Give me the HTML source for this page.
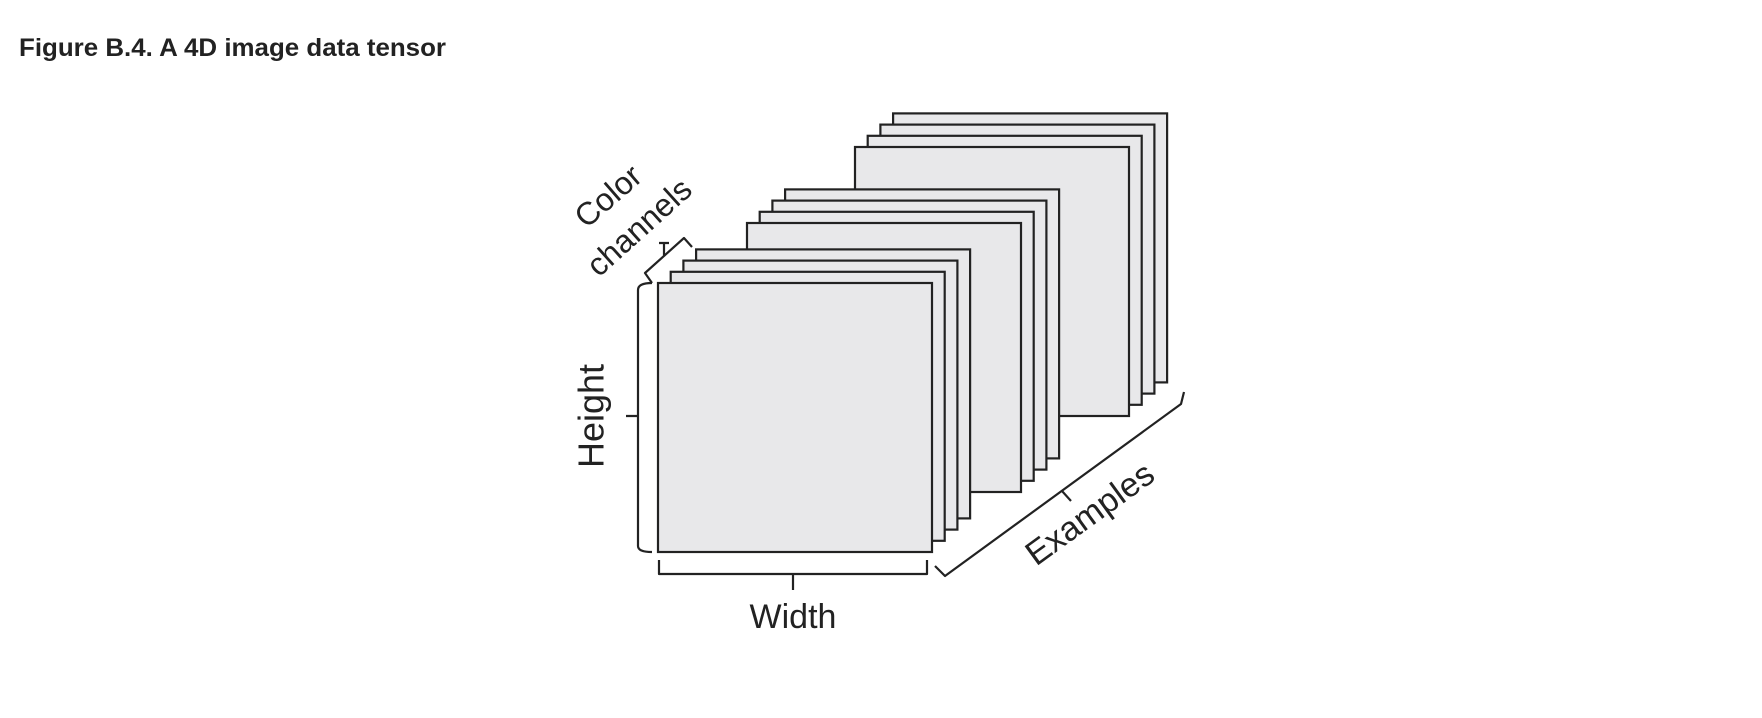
<!DOCTYPE html>
<html><head><meta charset="utf-8"><style>
html,body{margin:0;padding:0;background:#fff;}
svg{display:block;}
</style></head><body>
<svg width="1762" height="718" viewBox="0 0 1762 718" xmlns="http://www.w3.org/2000/svg">
<text x="19" y="56" font-family="Liberation Sans, sans-serif" font-weight="bold" font-size="25" fill="#222" textLength="427" lengthAdjust="spacingAndGlyphs">Figure B.4. A 4D image data tensor</text>
<g id="stacks"></g>
<g fill="none" stroke="#222" stroke-width="2.2" stroke-linejoin="round">
 <path d="M652,283 Q638,283 638,290 L638,546 Q638,552 652,552 M638,416 L626,416"/>
 <path d="M659,560 L659,574 L927,574 L927,560 M793,574 L793,590"/>
 <path d="M935,566 L945,576 L1181,404 L1184,392 M1062,491 L1071,501"/>
 <path d="M652,283 L645,273 L684,238 L692,247 M664,256 L664,243 M659,243 L669,243"/>
</g>
<g font-family="Liberation Sans, sans-serif" fill="#222" text-anchor="middle" dominant-baseline="central">
 <text x="0" y="0" font-size="36" transform="translate(591,416) rotate(-90)">Height</text>
 <text x="793" y="617" font-size="34">Width</text>
 <text x="0" y="0" font-size="34" transform="translate(1090,514) rotate(-36)">Examples</text>
 <text x="0" y="0" font-size="32" transform="translate(608,196) rotate(-41)">Color</text>
 <text x="0" y="0" font-size="32" transform="translate(639,227) rotate(-42)">channels</text>
</g>
</svg>
<script>
// Each example (group) front-square position and its channel layer offsets
const groupX = [855, 747, 658];
const groupY = [147, 223, 283];
const channels = [3, 2, 1, 0];
const squareW = 274, squareH = 269, stepX = 12.7, stepY = -11.2;
const g = document.getElementById('stacks');
const NS = 'http://www.w3.org/2000/svg';
groupX.forEach((gx, gi) => {
  channels.forEach(c => {
    const r = document.createElementNS(NS, 'rect');
    r.setAttribute('x', gx + c * stepX);
    r.setAttribute('y', groupY[gi] + c * stepY);
    r.setAttribute('width', squareW);
    r.setAttribute('height', squareH);
    r.setAttribute('fill', '#e8e8ea');
    r.setAttribute('stroke', '#222');
    r.setAttribute('stroke-width', '2.2');
    
    
    g.appendChild(r);
  });
});
</script>
</body></html>
